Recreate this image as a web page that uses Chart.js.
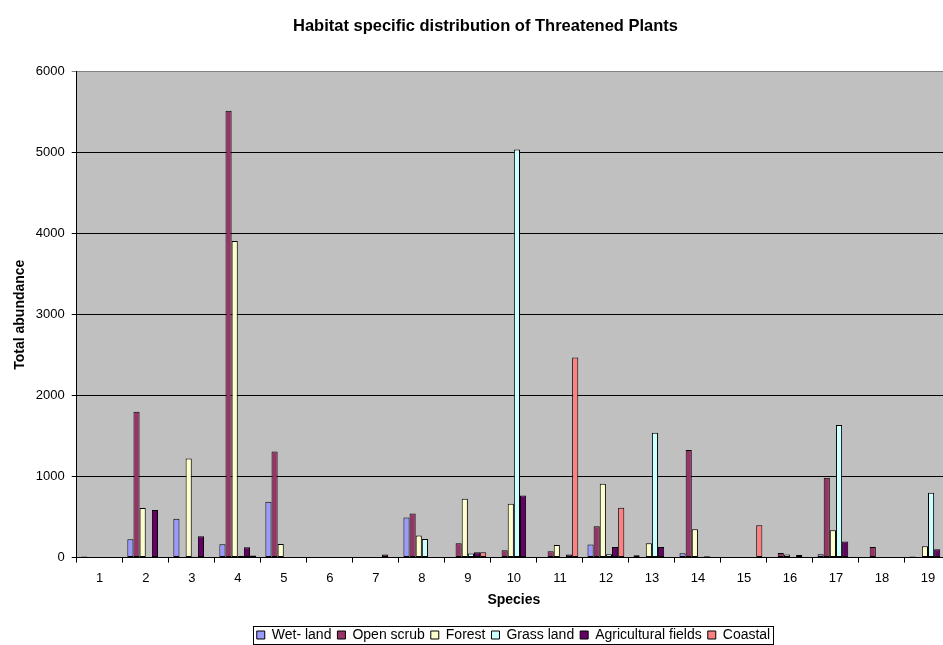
<!DOCTYPE html>
<html>
<head>
<meta charset="utf-8">
<script src="https://cdn.jsdelivr.net/npm/chart.js@4/dist/chart.umd.min.js"></script>
<style>
  body { margin: 0; background: #fff; overflow: hidden; }
  #wrap { width: 970px; height: 645px; }
</style>
</head>
<body>
<div id="wrap"><canvas id="myChart"></canvas></div>
<script>
/****data*****/
const species = ['1','2','3','4','5','6','7','8','9','10','11','12','13','14','15','16','17','18','19'];
const wetLand     = [15, 228, 479, 166, 690, 0, 0, 495, 0, 5, 0, 161, 30, 54, 0, 3, 42, 0, 15];
const openScrub   = [0, 1802, 0, 5520, 1311, 8, 0, 544, 178, 92, 79, 388, 0, 1328, 0, 58, 986, 132, 0];
const forest      = [0, 612, 1223, 3910, 169, 5, 0, 272, 726, 664, 157, 912, 178, 351, 0, 37, 339, 0, 141];
const grassLand   = [0, 0, 10, 20, 0, 0, 0, 231, 50, 5040, 0, 42, 1542, 10, 0, 0, 1638, 0, 800];
const agriculture = [0, 587, 265, 129, 0, 0, 37, 0, 67, 767, 37, 132, 132, 17, 0, 33, 198, 0, 104];
const coastal     = [0, 0, 0, 25, 0, 0, 0, 0, 67, 0, 2470, 615, 8, 0, 401, 0, 0, 0, 0];
const yTicks = [0, 1000, 2000, 3000, 4000, 5000, 6000];
/*****************/

Chart.defaults.font.family = "'Liberation Sans', Arial, sans-serif";
Chart.defaults.color = '#000';

// grey plot area like the Excel original
const plotBackground = {
  id: 'plotBackground',
  beforeDraw(chart) {
    const {ctx, chartArea: a} = chart;
    ctx.save();
    ctx.fillStyle = '#C0C0C0';
    ctx.fillRect(a.left, a.top, a.width, a.height);
    ctx.restore();
  }
};

// nudge title and legend right and put a box round the legend
const legendBox = {
  id: 'legendBox',
  afterLayout(chart) {
    chart.titleBlock.left += 10;
    chart.titleBlock.right += 10;
    chart.legend.left += 38;
    chart.legend.right += 38;
  },
  afterDraw(chart) {
    const boxes = chart.legend.legendHitBoxes;
    if (!boxes.length) return;
    const x1 = Math.min(...boxes.map(b => b.left)) - 4;
    const x2 = Math.max(...boxes.map(b => b.left + b.width)) + 3;
    const y1 = Math.min(...boxes.map(b => b.top)) - 2;
    const y2 = Math.max(...boxes.map(b => b.top + b.height)) + 2;
    const ctx = chart.ctx;
    ctx.save();
    ctx.strokeStyle = '#000';
    ctx.lineWidth = 1;
    ctx.strokeRect(Math.round(x1) + 0.5, Math.round(y1) + 0.5, Math.round(x2 - x1), Math.round(y2 - y1));
    ctx.restore();
  }
};

const barStyle = {borderColor: '#000', borderWidth: 1, borderSkipped: false};

const data = {
  labels: species,
  datasets: [
    {label: 'Wet- land', data: wetLand, backgroundColor: '#9999FF', ...barStyle},
    {label: 'Open scrub', data: openScrub, backgroundColor: '#993366', ...barStyle},
    {label: 'Forest', data: forest, backgroundColor: '#FFFFCC', ...barStyle},
    {label: 'Grass land', data: grassLand, backgroundColor: '#CCFFFF', ...barStyle},
    {label: 'Agricultural fields', data: agriculture, backgroundColor: '#660066', ...barStyle},
    {label: 'Coastal', data: coastal, backgroundColor: '#FF8080', ...barStyle}
  ]
};

const config = {
  type: 'bar',
  data: data,
  options: {
    responsive: true,
    maintainAspectRatio: false,
    animation: false,
    datasets: {bar: {categoryPercentage: 0.8, barPercentage: 1}},
    layout: {padding: {left: 0, right: 19, top: 0, bottom: -7}},
    plugins: {
      title: {
        display: true,
        text: 'Habitat specific distribution of Threatened Plants',
        font: {size: 16.5, weight: 'bold'},
        padding: {top: 17, bottom: 35}
      },
      legend: {
        position: 'bottom',
        labels: {boxWidth: 8, boxHeight: 8, padding: 6, font: {size: 14}}
      },
      tooltip: {enabled: false}
    },
    scales: {
      x: {
        grid: {offset: true, drawOnChartArea: false, tickLength: 5, color: '#000'},
        border: {color: '#000'},
        ticks: {padding: 8, font: {size: 13}},
        title: {display: true, text: 'Species', font: {size: 14, weight: 'bold'}, padding: {top: -2, bottom: 13}}
      },
      y: {
        min: yTicks[0],
        max: yTicks[yTicks.length - 1],
        afterBuildTicks(scale) { scale.ticks = yTicks.map(v => ({value: v})); },
        grid: {
          tickLength: 5,
          color: ctx => ctx.tick && ctx.tick.value === 6000 ? '#808080' : '#000'
        },
        border: {color: '#000'},
        ticks: {padding: 7, font: {size: 13}, callback: v => String(v)},
        title: {display: true, text: 'Total abundance', font: {size: 14, weight: 'bold'}, padding: {top: 12, bottom: 0}}
      }
    }
  },
  plugins: [plotBackground, legendBox]
};

var myChart = new Chart(document.getElementById('myChart'), config);
</script>
</body>
</html>
